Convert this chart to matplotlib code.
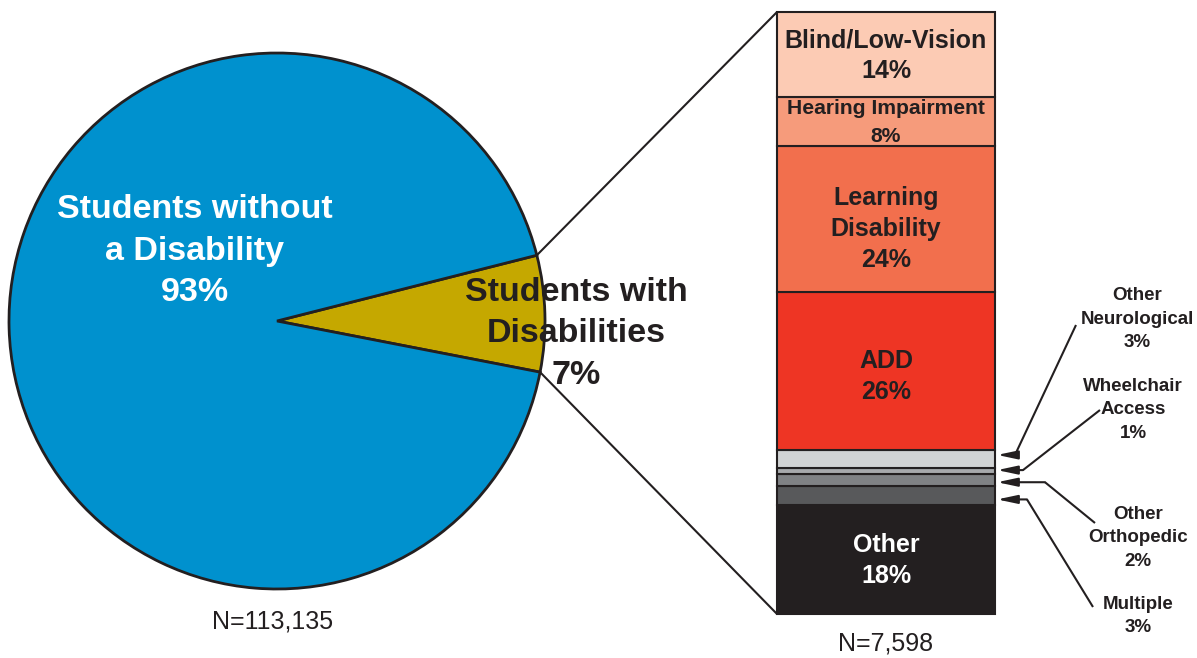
import matplotlib
matplotlib.use("Agg")
import matplotlib.pyplot as plt
from matplotlib.patches import ConnectionPatch
import numpy as np

plt.rcParams['font.family'] = ['Liberation Sans', 'DejaVu Sans']

# ---- data ----
pie_labels = ["Students with\nDisabilities\n7%", "Students without\na Disability\n93%"]
pie_values = [7, 93]
pie_colors = ["#c5a800", "#0091ce"]

bar_categories = ["Other", "Multiple", "Other Orthopedic", "Wheelchair Access",
                  "Other Neurological", "ADD", "Learning Disability",
                  "Hearing Impairment", "Blind/Low-Vision"]
bar_values = [18, 3, 2, 1, 3, 26, 24, 8, 14]
bar_colors = ["#231f20", "#58595b", "#808285", "#a7a9ac", "#d1d3d4",
              "#ee3524", "#f26f4d", "#f69b7b", "#fccbb4"]
bar_inside_labels = {"Other": "Other\n18%", "ADD": "ADD\n26%",
                     "Learning Disability": "Learning\nDisability\n24%",
                     "Hearing Impairment": "Hearing Impairment\n8%",
                     "Blind/Low-Vision": "Blind/Low-Vision\n14%"}
side_labels = {"Other Neurological": "Other\nNeurological\n3%",
               "Wheelchair Access": "Wheelchair\nAccess\n1%",
               "Other Orthopedic": "Other\nOrthopedic\n2%",
               "Multiple": "Multiple\n3%"}
n_total = "N=113,135"
n_dis = "N=7,598"

W, H = 1197, 658
fig = plt.figure(figsize=(W / 100, H / 100), dpi=100)
DARK = "#231f20"

# ---- pie ----
cx, cy, R = 277, 321, 268
ax_pie = fig.add_axes([(cx - R) / W, (H - cy - R) / H, 2 * R / W, 2 * R / H])
wedges, _ = ax_pie.pie(pie_values, colors=pie_colors, startangle=-11,
                       counterclock=True, radius=1,
                       wedgeprops=dict(edgecolor=DARK, linewidth=2))
ax_pie.set_xlim(-1, 1)
ax_pie.set_ylim(-1, 1)
ax_pie.set_aspect('equal')
ax_pie.axis('off')

ax_pie.text(-0.306, 0.261, pie_labels[1], color="white", fontsize=24.5,
            fontweight="bold", ha="center", va="center", linespacing=1.43)
ax_pie.text(1.116, -0.048, pie_labels[0], color=DARK, fontsize=24.5,
            fontweight="bold", ha="center", va="center", linespacing=1.43)
ax_pie.text(-0.015, -1.123, n_total, color=DARK, fontsize=18, ha="center", va="center")

# ---- stacked bar ----
bx0, bx1, by0, by1 = 777, 995, 12, 614
ax_bar = fig.add_axes([bx0 / W, (H - by1) / H, (bx1 - bx0) / W, (by1 - by0) / H])
total = sum(bar_values)
ax_bar.set_xlim(0, 1)
ax_bar.set_ylim(0, total)
ax_bar.axis('off')

# label style: (fontsize, linespacing, vertical offset in px, downward)
inside_style = {
    "Other": (18, 1.36, 1),
    "ADD": (18, 1.36, 6),
    "Learning Disability": (18, 1.36, 10),
    "Hearing Impairment": (15.2, 1.55, 1),
    "Blind/Low-Vision": (18, 1.36, 1),
}
px_per_unit = (by1 - by0) / total

bottoms = np.concatenate([[0], np.cumsum(bar_values)[:-1]])
for cat, v, b, c in zip(bar_categories, bar_values, bottoms, bar_colors):
    ax_bar.bar(0.5, v, bottom=b, width=1, color=c, edgecolor=DARK,
               linewidth=1.5, clip_on=False)
    if cat in bar_inside_labels:
        fs, ls, off = inside_style[cat]
        tc = "white" if cat == "Other" else DARK
        ax_bar.text(0.5, b + v / 2 - off / px_per_unit, bar_inside_labels[cat],
                    ha="center", va="center",
                    fontsize=fs, fontweight="bold", color=tc, linespacing=ls)

ax_bar.text(0.5, -4.9, n_dis, color=DARK, fontsize=18, ha="center", va="center")


def px2d(px, py):
    return (px - bx0) / (bx1 - bx0), (by1 - py) / (by1 - by0) * total


# side labels: (text center px, line start px, elbow x px, arrow offset px downward)
side_layout = {
    "Other Neurological": ((1137, 319), (1076, 325), 1015, -4),
    "Wheelchair Access": ((1133, 410), (1100, 410), 1023, -1),
    "Other Orthopedic": ((1138, 538), (1095, 523), 1045, 2),
    "Multiple": ((1138, 616), (1093, 607), 1027, 4),
}
for cat, v, b in zip(bar_categories, bar_values, bottoms):
    if cat not in side_labels:
        continue
    (tx, ty), (lx, ly), ex, aoff = side_layout[cat]
    mid = b + v / 2 - aoff / px_per_unit
    tdx, tdy = px2d(tx, ty)
    ax_bar.text(tdx, tdy, side_labels[cat], ha="center", va="center", fontsize=13.5,
                fontweight="bold", color=DARK, linespacing=1.5, clip_on=False)
    ldx, ldy = px2d(lx, ly)
    edx, _ = px2d(ex, 0)
    ax_bar.plot([ldx, edx], [ldy, mid], color=DARK, linewidth=1.5, clip_on=False,
                solid_capstyle='butt')
    ax_bar.annotate("", xy=(1.01, mid), xytext=(edx, mid), annotation_clip=False,
                    arrowprops=dict(arrowstyle="-|>,head_length=0.8,head_width=0.17",
                                    color=DARK, lw=1.5, shrinkA=0, shrinkB=0,
                                    mutation_scale=15))

# ---- connecting lines ----
w = wedges[0]
for theta, yb in [(w.theta2, 1), (w.theta1, 0)]:
    t = np.deg2rad(theta)
    con = ConnectionPatch(xyA=(np.cos(t), np.sin(t)), coordsA=ax_pie.transData,
                          xyB=(0, yb), coordsB=ax_bar.transAxes,
                          color=DARK, linewidth=1.5)
    fig.add_artist(con)

fig.savefig("out.png", dpi=100)
